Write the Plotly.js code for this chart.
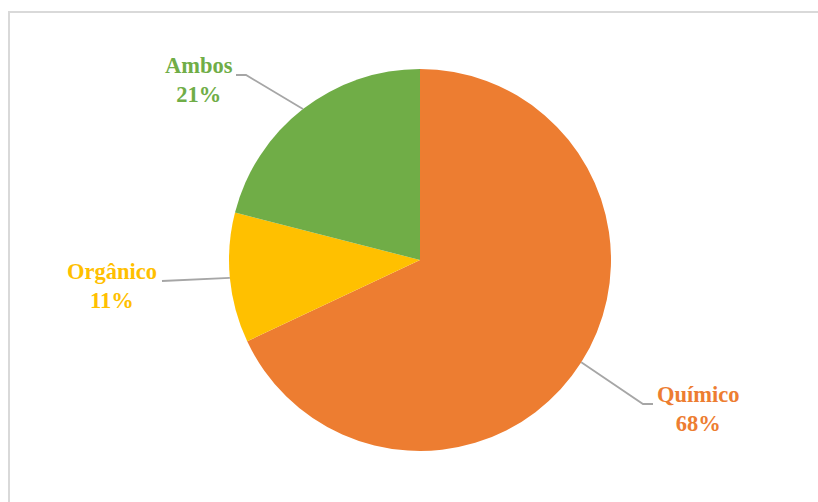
<!DOCTYPE html>
<html>
<head>
<meta charset="utf-8">
<script src="https://cdn.plot.ly/plotly-3.0.1.min.js"></script>
<style>html,body{margin:0;padding:0;background:#fff;}#chart{width:818px;height:502px;}</style>
</head>
<body>
<div id="chart"></div>
<script>
// Data
const categories = ["Químico", "Orgânico", "Ambos"];
const values = [68, 11, 21];
const colors = ["#ED7D31", "#FFC000", "#70AD47"];
const percentLabels = ["68%", "11%", "21%"];

// Layout geometry (pixels)
const W = 818, H = 502;
const cx = 420, cy = 260, R = 191;
// label text centres and leader elbow points (pixels)
const labelPos = [[698, 409], [112, 286], [199, 80]];
const elbowPts = [[[643, 404], [653, 404]], [[162, 281], [162, 281]], [[246, 75], [236, 75]]];

const px = x => x / W;
const py = y => 1 - y / H;

const total = values.reduce((a, b) => a + b, 0);
let cum = 0;
const shapes = [{
  type: 'rect', xref: 'paper', yref: 'paper',
  x0: px(9), x1: px(830), y0: py(12), y1: py(520),
  line: {color: '#d9d9d9', width: 2}, fillcolor: 'rgba(0,0,0,0)', layer: 'below'
}];
const annotations = [];
values.forEach((v, i) => {
  const mid = (cum + v / 2) / total;
  cum += v;
  const th = mid * 2 * Math.PI;
  const ex = cx + R * Math.sin(th), ey = cy - R * Math.cos(th);
  const [e1, e2] = elbowPts[i];
  shapes.push({
    type: 'path', xref: 'paper', yref: 'paper',
    path: `M ${px(ex)} ${py(ey)} L ${px(e1[0])} ${py(e1[1])} L ${px(e2[0])} ${py(e2[1])}`,
    line: {color: '#a6a6a6', width: 1.8}
  });
  annotations.push({
    xref: 'paper', yref: 'paper', x: px(labelPos[i][0]), y: py(labelPos[i][1]),
    xanchor: 'center', yanchor: 'middle', showarrow: false, align: 'center',
    text: `<b>${categories[i]}<br>${percentLabels[i]}</b>`,
    font: {family: 'Liberation Serif, Times New Roman, serif', size: 22.5, color: colors[i]}
  });
});

const trace = {
  type: 'pie', labels: categories, values: values, sort: false,
  direction: 'clockwise', rotation: 0,
  marker: {colors: colors, line: {color: 'rgba(0,0,0,0)', width: 0}},
  textinfo: 'none', hoverinfo: 'label+percent',
  domain: {x: [px(cx - R), px(cx + R)], y: [py(cy + R), py(cy - R)]}
};

Plotly.newPlot('chart', [trace], {
  width: W, height: H, margin: {l: 0, r: 0, t: 0, b: 0},
  paper_bgcolor: '#fff', showlegend: false, shapes: shapes, annotations: annotations
}, {displayModeBar: false, staticPlot: true});
</script>
</body>
</html>
